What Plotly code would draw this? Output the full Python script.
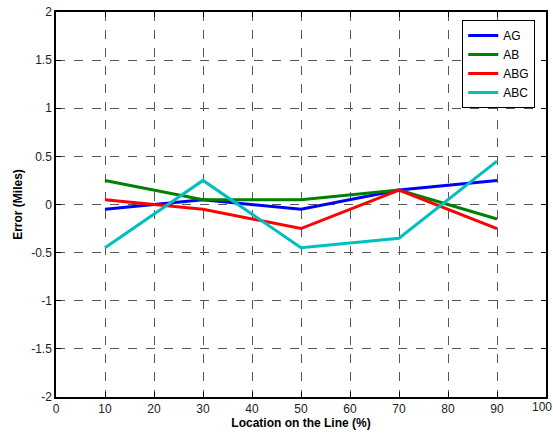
import plotly.graph_objects as go

locations = [10, 30, 50, 70, 90]
ag = [-0.05, 0.05, -0.05, 0.15, 0.25]
ab = [0.25, 0.05, 0.05, 0.15, -0.15]
abg = [0.05, -0.05, -0.25, 0.15, -0.25]
abc = [-0.45, 0.25, -0.45, -0.35, 0.45]

x_ticks = [0, 10, 20, 30, 40, 50, 60, 70, 80, 90, 100]
y_ticks = [-2, -1.5, -1, -0.5, 0, 0.5, 1, 1.5, 2]
y_tick_labels = ["-2", "-1.5", "-1", "-0.5", "0", "0.5", "1", "1.5", "2"]

series = [("AG", ag, "#0000ff"), ("AB", ab, "#008000"), ("ABG", abg, "#ff0000"), ("ABC", abc, "#00bfbf")]

fig = go.Figure()
for name, vals, col in series:
    fig.add_trace(go.Scatter(x=locations, y=vals, mode="lines", name=name,
                             line=dict(color=col, width=3)))

tick_font = dict(family="Liberation Sans, Arial", size=12, color="#222")
axis_common = dict(
    showline=True, linecolor="black", linewidth=1.5, mirror="ticks",
    ticks="inside", ticklen=5, tickcolor="black", automargin=False,
    showgrid=True, gridcolor="#555555", griddash="dash", gridwidth=1,
    zeroline=False, tickfont=tick_font,
)

fig.update_layout(
    width=553, height=434,
    margin=dict(l=56, r=7, t=12, b=37),
    paper_bgcolor="white", plot_bgcolor="white",
    font=dict(family="Liberation Sans, Arial", size=12, color="black"),
    xaxis=dict(range=[0, 100], tickvals=x_ticks[:-1], ticktext=[str(v) for v in x_ticks[:-1]],
               title=dict(text="<b>Location on the Line (%)</b>", standoff=2,
                          font=dict(size=12)), **axis_common),
    yaxis=dict(range=[-2, 2], tickvals=y_ticks, ticktext=y_tick_labels,
               title=dict(text="<b>Error (Miles)</b>", standoff=6, font=dict(size=12)),
               **axis_common),
    legend=dict(x=0.978, y=0.979, xanchor="right", yanchor="top",
                bgcolor="white", bordercolor="black", borderwidth=1,
                font=dict(size=12), tracegroupgap=0, itemwidth=30),
    showlegend=True,
)

# last x tick label, drawn as annotation so it stays inside the window
fig.add_annotation(x=x_ticks[-1], xref="x", y=0, yref="paper", yanchor="top",
                   xanchor="center", text=str(x_ticks[-1]), showarrow=False,
                   font=tick_font, yshift=-1, xshift=-4)

fig.write_html("out.html", config={"displayModeBar": False},
               post_script="document.body.style.margin='0';")
